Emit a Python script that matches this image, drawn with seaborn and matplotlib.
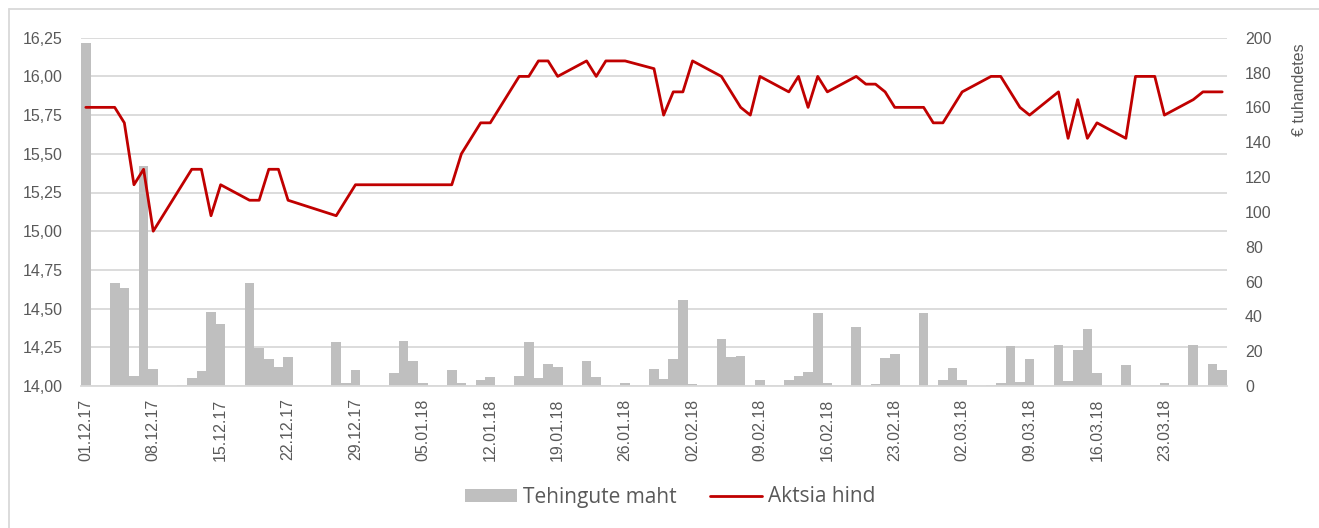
import matplotlib
matplotlib.use("Agg")
import matplotlib.pyplot as plt
from matplotlib.lines import Line2D
from matplotlib.patches import Patch
import pandas as pd
import numpy as np
import seaborn as sns

# daily data, 01.12.17 .. 29.03.18 (one row = one week, Fri..Thu)
start_date = "2017-12-01"

# Tehingute maht (€ tuhandetes)
volume = [
    197, 0, 0, 59, 56.5, 5.7, 126.5,
    9.8, 0, 0, 0.6, 4.6, 8.6, 42.7,
    35.6, 0, 0, 59, 21.6, 15.3, 10.7,
    16.7, 0, 0, 0, 0, 25.3, 1.9,
    9.2, 0, 0, 0, 7.7, 25.8, 14.4,
    1.5, 0, 0, 9.2, 1.9, 0, 3.4,
    5.0, 0, 0, 5.7, 25.3, 4.6, 12.6,
    11.1, 0, 0, 14.2, 5.2, 0.6, 0,
    1.7, 0, 0, 9.8, 4.0, 15.5, 49.4,
    1.1, 0, 0, 27.2, 16.8, 17.0, 0,
    3.6, 0, 0, 3.4, 5.7, 8.0, 41.7,
    1.9, 0, 0, 33.7, 0, 1.0, 16.3,
    18.2, 0, 0, 41.9, 0, 3.3, 10.3,
    3.3, 0, 0, 0.4, 1.5, 23.0, 2.5,
    15.5, 0, 0, 23.7, 3.1, 20.7, 32.7,
    7.7, 0, 0, 12.1, 0, 0, 0.4,
    1.7, 0, 0, 23.5, 0, 12.8, 9.2,
]

# Aktsia hind (None = no price that day)
N = None
price = [
    15.80, N, N, 15.80, 15.70, 15.30, 15.40,
    15.00, N, N, N, 15.40, 15.40, 15.10,
    15.30, N, N, 15.20, 15.20, 15.40, 15.40,
    15.20, N, N, N, N, 15.10, N,
    15.30, N, N, N, 15.30, 15.30, 15.30,
    15.30, N, N, 15.30, 15.50, N, 15.70,
    15.70, N, N, 16.00, 16.00, 16.10, 16.10,
    16.00, N, N, 16.10, 16.00, 16.10, N,
    16.10, N, N, 16.05, 15.75, 15.90, 15.90,
    16.10, N, N, 16.00, N, 15.80, 15.75,
    16.00, N, N, 15.90, 16.00, 15.80, 16.00,
    15.90, N, N, 16.00, 15.95, 15.95, 15.90,
    15.80, N, N, 15.80, 15.70, 15.70, N,
    15.90, N, N, 16.00, 16.00, N, 15.80,
    15.75, N, N, 15.90, 15.60, 15.85, 15.60,
    15.70, N, N, 15.60, 16.00, N, 16.00,
    15.75, N, N, 15.85, 15.90, N, 15.90,
]

price_ticks = [14.00, 14.25, 14.50, 14.75, 15.00, 15.25, 15.50, 15.75, 16.00, 16.25]
volume_ticks = [0, 20, 40, 60, 80, 100, 120, 140, 160, 180, 200]

dates = pd.date_range(start_date, periods=len(volume), freq="D")
df = pd.DataFrame({"date": dates, "pos": np.arange(len(volume)),
                   "volume": volume, "price": pd.to_numeric(pd.Series(price), errors="coerce")})

sns.set_theme(style="white")
plt.rcParams["font.family"] = ["Liberation Sans", "DejaVu Sans"]

TXT = "#595959"
GRID = "#d9d9d9"
BAR = "#bfbfbf"
RED = "#c00000"
FS = 11.5

W, H = 1319, 528
fig = plt.figure(figsize=(W / 100, H / 100), dpi=100)
ax = fig.add_axes([81 / W, 1 - 386 / H, (1227 - 81) / W, (386 - 37.7) / H])
ax2 = ax.twinx()

# gridlines belong to the price scale, drawn behind the bars
for k in range(len(price_ticks)):
    ax.axhline(200 * k / (len(price_ticks) - 1), color=GRID, lw=1.3, zorder=0)

sns.barplot(data=df, x="pos", y="volume", ax=ax, color=BAR, saturation=1,
            width=1.0, linewidth=0, zorder=2)
ax.set_ylim(0, 200)
ax.set_xlim(-0.5, len(volume) - 0.5)
ax.yaxis.tick_right()
ax.yaxis.set_label_position("right")
ax.set_yticks(volume_ticks)
ax.set_yticklabels([str(v) for v in volume_ticks])
ax.set_ylabel("€ tuhandetes", color=TXT, fontsize=FS)
ax.yaxis.set_label_coords(1.057, 0.85)
ax.set_xlabel("")

# x ticks: labels every 7 days, tick marks on bar boundaries
lab_pos = np.arange(0, len(volume), 7)
ax.set_xticks(lab_pos)
ax.set_xticklabels([dates[i].strftime("%d.%m.%y") for i in lab_pos], rotation=90)
ax.set_xticks(np.arange(-0.5, len(volume), 7), minor=True)
ax.tick_params(axis="x", which="major", length=0, pad=9, labelsize=FS, labelcolor=TXT)
ax.tick_params(axis="x", which="minor", length=5, width=1, color=BAR, direction="out")
ax.tick_params(axis="y", length=0, pad=13, labelsize=FS, labelcolor=TXT)

for s in ["top", "left", "right"]:
    ax.spines[s].set_visible(False)
ax.spines["bottom"].set_color(GRID)
ax.spines["bottom"].set_linewidth(1.3)

line_df = df.dropna(subset=["price"])
sns.lineplot(data=line_df, x="pos", y="price", ax=ax2, color=RED, lw=2.0)
ax2.set_ylim(14.0, 16.25)
ax2.set_xlim(-0.5, len(volume) - 0.5)
ax2.yaxis.tick_left()
ax2.set_yticks(price_ticks)
ax2.set_yticklabels([f"{v:.2f}".replace(".", ",") for v in price_ticks])
ax2.tick_params(axis="y", length=0, pad=13, labelsize=FS, labelcolor=TXT)
ax2.set_ylabel("")
ax2.set_xlabel("")
for s in ax2.spines.values():
    s.set_visible(False)

handles = [Patch(facecolor=BAR, edgecolor="none"), Line2D([], [], color=RED, lw=2.0)]
fig.legend(handles, ["Tehingute maht", "Aktsia hind"], loc="center",
           bbox_to_anchor=(670 / W, 1 - 497 / H), ncol=2, frameon=False,
           prop={"family": ["Open Sans", "DejaVu Sans"], "size": 15},
           labelcolor=TXT, handlelength=2.5, handleheight=0.6,
           handletextpad=0.3, columnspacing=1.6)

# chart-area border (left and top edges visible)
fig.add_artist(Line2D([9 / W, 9 / W], [0, 1 - 9 / H], color=GRID, lw=1.3))
fig.add_artist(Line2D([9 / W, 1], [1 - 9 / H, 1 - 9 / H], color=GRID, lw=1.3))

fig.savefig("out.png", dpi=100)
